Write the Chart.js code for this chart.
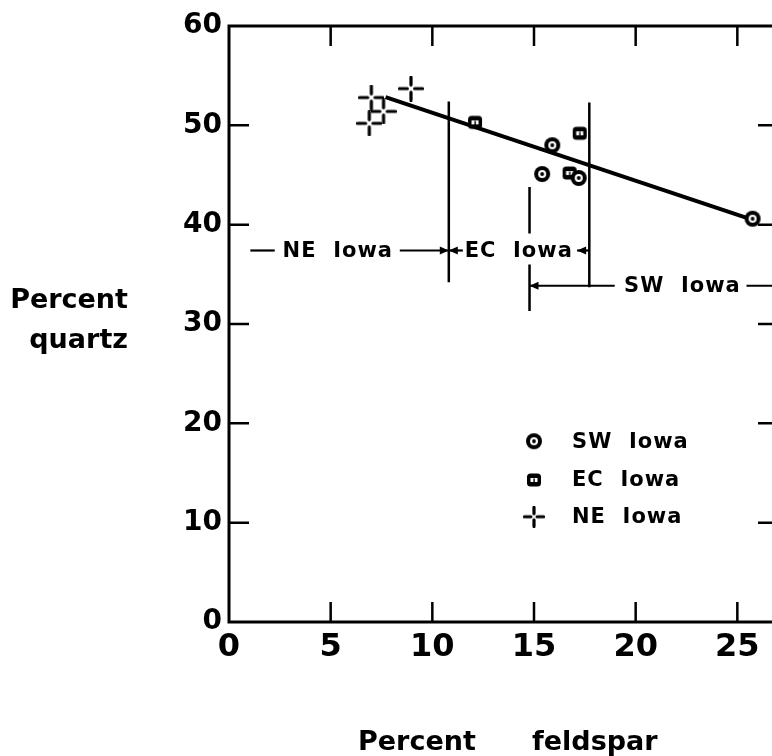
<!DOCTYPE html>
<html>
<head>
<meta charset="utf-8">
<script src="https://cdn.jsdelivr.net/npm/chart.js@4.4.1/dist/chart.umd.min.js"></script>
<style>
  html, body { margin: 0; padding: 0; background: #fff; overflow: hidden; }
  #wrap { width: 800px; height: 756px; }
</style>
</head>
<body>
<div id="wrap"><canvas id="quartzChart" width="800" height="756"></canvas></div>
<script>
// values (percent feldspar vs percent quartz)
const swFeldspar = [15.9, 15.4, 17.2, 25.75];
const swQuartz = [48.0, 45.1, 44.7, 40.6];
const ecFeldspar = [12.1, 17.25, 16.75];
const ecQuartz = [50.3, 49.2, 45.2];
const neFeldspar = [7.0, 8.95, 7.6, 6.9];
const neQuartz = [52.8, 53.7, 51.4, 50.2];
const fitFeldspar = [7.7, 25.5];
const fitQuartz = [52.85, 40.65];
const xTickValues = [0, 5, 10, 15, 20, 25];
const yTickValues = [0, 10, 20, 30, 40, 50, 60];
const seriesNames = ['SW Iowa', 'EC Iowa', 'NE Iowa'];

// region boundaries drawn on the plot (data units)
const boundaryLines = [
  { x: 10.81, from: 52.4, to: 34.2 },
  { x: 17.72, from: 52.3, to: 33.7 },
  { x: 14.78, from: 43.8, to: 39.1 },
  { x: 14.78, from: 36.0, to: 31.3 }
];
const rangeArrows = [
  { y: 37.4, from: 1.05, to: 2.25, head: null },
  { y: 37.4, from: 8.4, to: 10.81, head: 'right' },
  { y: 37.4, from: 10.81, to: 11.5, head: 'left' },
  { y: 37.4, from: 17.12, to: 17.72, head: 'left' },
  { y: 33.85, from: 14.78, to: 18.97, head: 'left' },
  { y: 33.85, from: 25.45, to: 27.5, head: null }
];
const rangeLabels = [
  { text: 'NE  Iowa', x: 5.35, y: 37.4 },
  { text: 'EC  Iowa', x: 14.25, y: 37.4 },
  { text: 'SW  Iowa', x: 22.3, y: 33.85 }
];

const FONT = "'DejaVu Sans', sans-serif";

function pairs(xs, ys) {
  return xs.map((x, i) => ({ x: x, y: ys[i] }));
}

function swSymbol() {
  const c = document.createElement('canvas');
  c.width = 18; c.height = 18;
  const g = c.getContext('2d');
  g.fillStyle = '#000';
  g.beginPath(); g.arc(9, 9, 8, 0, Math.PI * 2); g.fill();
  g.fillStyle = '#fff';
  g.beginPath(); g.arc(9, 9, 4, 0, Math.PI * 2); g.fill();
  g.fillStyle = '#000';
  g.beginPath(); g.arc(9, 9, 1.9, 0, Math.PI * 2); g.fill();
  return c;
}

function ecSymbol() {
  const c = document.createElement('canvas');
  c.width = 16; c.height = 16;
  const g = c.getContext('2d');
  g.fillStyle = '#000';
  g.beginPath(); g.roundRect(1, 1.5, 14, 13, 3.5); g.fill();
  g.fillStyle = '#fff';
  g.fillRect(4.5, 6, 7, 4);
  g.fillStyle = '#000';
  g.fillRect(7.4, 6.5, 1.4, 4);
  return c;
}

function neSymbol(size) {
  const c = document.createElement('canvas');
  c.width = size; c.height = size;
  const g = c.getContext('2d');
  const m = size / 2, gap = size * 0.14, end = size / 2 - 1.5;
  g.strokeStyle = '#000';
  g.lineWidth = 3.2;
  g.lineCap = 'round';
  g.beginPath();
  g.moveTo(m, m - end); g.lineTo(m, m - gap);
  g.moveTo(m, m + gap); g.lineTo(m, m + end);
  g.moveTo(m - end, m); g.lineTo(m - gap, m);
  g.moveTo(m + gap, m); g.lineTo(m + end, m);
  g.stroke();
  return c;
}

const swIcon = swSymbol();
const ecIcon = ecSymbol();
const neIcon = neSymbol(26);
const neLegendIcon = neSymbol(22);

const figurePlugin = {
  id: 'figure',
  afterDatasetsDraw(chart) {
    const ctx = chart.ctx;
    const xs = chart.scales.x, ys = chart.scales.y;
    const a = chart.chartArea;
    const px = v => xs.getPixelForValue(v);
    const py = v => ys.getPixelForValue(v);
    ctx.save();
    ctx.strokeStyle = '#000';
    ctx.fillStyle = '#000';

    // frame and inward ticks
    ctx.lineWidth = 3;
    ctx.strokeRect(a.left, a.top, a.right - a.left, a.bottom - a.top);
    ctx.lineWidth = 2.5;
    ctx.beginPath();
    xTickValues.slice(1).forEach(v => {
      ctx.moveTo(px(v), a.bottom); ctx.lineTo(px(v), a.bottom - 20);
      ctx.moveTo(px(v), a.top); ctx.lineTo(px(v), a.top + 20);
    });
    yTickValues.slice(1, -1).forEach(v => {
      ctx.moveTo(a.left, py(v)); ctx.lineTo(a.left + 20, py(v));
      ctx.moveTo(a.right, py(v)); ctx.lineTo(a.right - 20, py(v));
    });
    ctx.stroke();

    // region boundaries
    ctx.lineWidth = 2.5;
    ctx.beginPath();
    boundaryLines.forEach(b => {
      ctx.moveTo(px(b.x), py(b.from)); ctx.lineTo(px(b.x), py(b.to));
    });
    ctx.stroke();

    ctx.lineWidth = 2.2;
    rangeArrows.forEach(r => {
      const x1 = px(r.from), x2 = px(r.to), y = py(r.y);
      ctx.beginPath(); ctx.moveTo(x1, y); ctx.lineTo(x2, y); ctx.stroke();
      if (r.head) {
        const tip = r.head === 'right' ? x2 : x1;
        const dir = r.head === 'right' ? -1 : 1;
        ctx.beginPath();
        ctx.moveTo(tip, y);
        ctx.lineTo(tip + dir * 9, y - 4);
        ctx.lineTo(tip + dir * 9, y + 4);
        ctx.closePath();
        ctx.fill();
      }
    });

    ctx.font = 'bold 21px ' + FONT;
    ctx.letterSpacing = '1px';
    ctx.textAlign = 'center';
    ctx.textBaseline = 'middle';
    rangeLabels.forEach(l => ctx.fillText(l.text, px(l.x), py(l.y) + 1));

    // legend
    const legendIcons = [swIcon, ecIcon, neLegendIcon];
    const legendRows = [18.2, 14.3, 10.6];
    ctx.textAlign = 'left';
    seriesNames.forEach((name, i) => {
      const icon = legendIcons[i];
      const y = py(legendRows[i]);
      ctx.drawImage(icon, px(15.0) - icon.width / 2, y - icon.height / 2);
      ctx.fillText(name.replace(' ', '  '), px(16.87), y + 1);
    });

    // axis titles
    ctx.font = 'bold 27px ' + FONT;
    ctx.textBaseline = 'alphabetic';
    ctx.textAlign = 'right';
    ctx.letterSpacing = '0px';
    ctx.fillText('Percent', 128, 308);
    ctx.fillText('quartz', 128, 348);
    ctx.textAlign = 'left';
    ctx.fillText('Percent', 358, 750);
    ctx.fillText('feldspar', 532, 750);
    ctx.restore();
  }
};

new Chart(document.getElementById('quartzChart'), {
  type: 'scatter',
  data: {
    datasets: [
      { label: seriesNames[0], data: pairs(swFeldspar, swQuartz), pointStyle: swIcon, pointRadius: 8 },
      { label: seriesNames[1], data: pairs(ecFeldspar, ecQuartz), pointStyle: ecIcon, pointRadius: 7 },
      { label: seriesNames[2], data: pairs(neFeldspar, neQuartz), pointStyle: neIcon, pointRadius: 12 },
      {
        label: 'fit', type: 'line', data: pairs(fitFeldspar, fitQuartz),
        borderColor: '#000', borderWidth: 4, pointRadius: 0, fill: false
      }
    ]
  },
  options: {
    responsive: false,
    animation: false,
    layout: { padding: { top: 26, right: 22, left: 0, bottom: 0 } },
    plugins: { legend: { display: false }, tooltip: { enabled: false } },
    scales: {
      x: {
        type: 'linear', min: 0, max: 27,
        afterFit: s => { s.height = 134; },
        afterBuildTicks: s => { s.ticks = xTickValues.map(v => ({ value: v })); },
        grid: { display: false, drawTicks: false },
        border: { display: false },
        ticks: { padding: 6, color: '#000', font: { family: FONT, size: 32, weight: 'bold' } }
      },
      y: {
        type: 'linear', min: 0, max: 60,
        afterFit: s => { s.width = 229; },
        afterBuildTicks: s => { s.ticks = yTickValues.map(v => ({ value: v })); },
        grid: { display: false, drawTicks: false },
        border: { display: false },
        ticks: { padding: 7, color: '#000', font: { family: FONT, size: 28, weight: 'bold' } }
      }
    }
  },
  plugins: [figurePlugin]
});
</script>
</body>
</html>
